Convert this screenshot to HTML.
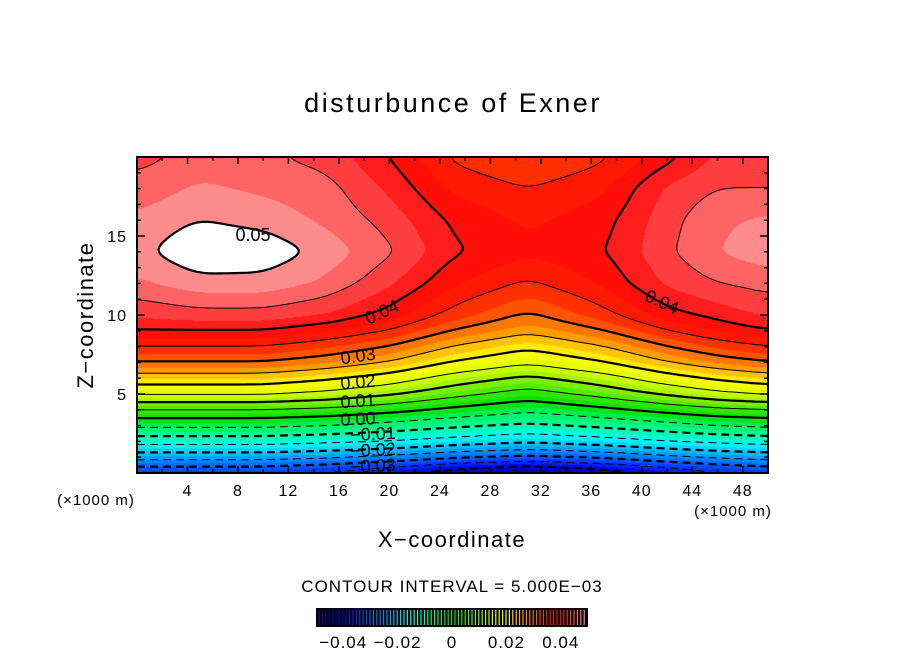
<!DOCTYPE html>
<html><head><meta charset="utf-8">
<style>
body{margin:0;background:#fff;}
#wrap{position:relative;width:904px;height:654px;overflow:hidden;background:#fff;font-family:"Liberation Sans",sans-serif;}
</style></head>
<body>
<div id="wrap">
<canvas id="fill" width="631" height="316" style="position:absolute;left:137px;top:157px;"></canvas>
<svg id="svg" width="904" height="654" style="position:absolute;left:0;top:0;"></svg>
</div>
<script>
// ---- data ----
const xCoords = [0,5,10,15,20,25,31,37,42,46,50];          // x (x1000 m)
const zCoords = [0,1,2,3,4,5,6,7,8,9,10,12,14,16,18,20];   // z (x1000 m)
// field values: one array per x column, bottom to top
const col0  = [-0.035,-0.023,-0.013,-0.004,0.005,0.016,0.023,0.030,0.035,0.040,0.043,0.047,0.049,0.048,0.046,0.044];
const col5  = [-0.035,-0.023,-0.013,-0.004,0.005,0.016,0.023,0.030,0.035,0.040,0.044,0.049,0.0525,0.050,0.048,0.046];
const col10 = [-0.035,-0.023,-0.013,-0.004,0.005,0.016,0.023,0.030,0.035,0.040,0.044,0.049,0.052,0.049,0.047,0.0455];
const col15 = [-0.037,-0.024,-0.014,-0.005,0.004,0.014,0.021,0.028,0.033,0.038,0.0425,0.047,0.049,0.047,0.046,0.044];
const col20 = [-0.040,-0.026,-0.015,-0.007,0.002,0.011,0.018,0.025,0.030,0.035,0.039,0.043,0.0455,0.044,0.042,0.040];
const col25 = [-0.044,-0.029,-0.017,-0.009,-0.001,0.007,0.013,0.020,0.025,0.030,0.034,0.038,0.0405,0.0395,0.037,0.0345];
const col31 = [-0.047,-0.031,-0.019,-0.011,-0.004,0.003,0.009,0.016,0.021,0.026,0.0295,0.0345,0.038,0.037,0.035,0.032];
const col37 = [-0.044,-0.029,-0.017,-0.009,-0.001,0.007,0.013,0.020,0.025,0.030,0.034,0.038,0.0398,0.039,0.037,0.0345];
const col42 = [-0.040,-0.026,-0.015,-0.007,0.002,0.011,0.018,0.025,0.030,0.035,0.039,0.043,0.0445,0.044,0.043,0.039];
const col46 = [-0.037,-0.024,-0.014,-0.005,0.004,0.014,0.021,0.028,0.033,0.038,0.041,0.045,0.0475,0.047,0.045,0.043];
const col50 = [-0.035,-0.023,-0.013,-0.004,0.005,0.016,0.023,0.030,0.035,0.040,0.043,0.046,0.049,0.048,0.045,0.043];
const columns = [col0,col5,col10,col15,col20,col25,col31,col37,col42,col46,col50];
const xTicks = [4,8,12,16,20,24,28,32,36,40,44,48];
const zTicks = [5,10,15];
const cbarTicks = [-0.04,-0.02,0,0.02,0.04];
const cbarLabels = ["\u22120.04","\u22120.02","0","0.02","0.04"];

// ---- axes ----
const PL=137,PR=768,PT=157,PB=473;
const X0=0,X1=50,Z0=0,Z1=20;
const sx = x => PL + (x-X0)/(X1-X0)*(PR-PL);
const sz = z => PB - (z-Z0)/(Z1-Z0)*(PB-PT);
const ix = px => X0 + (px)/(PR-PL)*(X1-X0);
const iz = py => Z1 - (py)/(PB-PT)*(Z1-Z0);

function seg(arr,v){let i=0;while(i<arr.length-2&&v>arr[i+1])i++;let t=(v-arr[i])/(arr[i+1]-arr[i]);return [i,Math.max(0,Math.min(1,t))];}
function field(x,z){
  const [i,tx]=seg(xCoords,x),[j,tz]=seg(zCoords,z);
  const a=columns[i][j],b=columns[i+1][j],c=columns[i][j+1],d=columns[i+1][j+1];
  return (a*(1-tx)+b*tx)*(1-tz)+(c*(1-tx)+d*tx)*tz;
}
const stops=[[-0.05,[80,0,144]],[-0.045,[0,0,176]],[-0.04,[0,0,224]],[-0.035,[0,48,255]],[-0.03,[0,96,255]],[-0.025,[0,144,255]],[-0.02,[0,200,255]],[-0.015,[0,255,240]],[-0.01,[0,255,160]],[-0.005,[0,240,96]],[0,[0,224,0]],[0.005,[64,232,0]],[0.01,[144,240,0]],[0.015,[216,255,0]],[0.02,[255,255,0]],[0.025,[255,176,0]],[0.03,[255,100,0]],[0.035,[255,30,0]],[0.04,[255,10,10]],[0.045,[255,80,80]],[0.05,[255,160,160]]];
function cmap(v){
  if(v<=stops[0][0])return stops[0][1];
  for(let k=0;k<stops.length-1;k++){if(v<=stops[k+1][0]){const t=(v-stops[k][0])/(stops[k+1][0]-stops[k][0]);return stops[k][1].map((c,i)=>Math.round(c+(stops[k+1][1][i]-c)*t));}}
  return stops[stops.length-1][1];
}
// ---- field sampling + smoothing ----
const W=PR-PL,H=PB-PT;
let F=[];
for(let py=0;py<H;py++){const r=new Float64Array(W);for(let px=0;px<W;px++)r[px]=field(ix(px+0.5),iz(py+0.5));F.push(r);}
function blurH(A,R){return A.map(r=>{const o=new Float64Array(W);for(let x=0;x<W;x++){let s=0,n=0;for(let k=-R;k<=R;k++){const xx=Math.min(W-1,Math.max(0,x+k));s+=r[xx];n++;}o[x]=s/n;}return o;});}
function blurV(A,R){const O=A.map(()=>new Float64Array(W));for(let y=0;y<H;y++)for(let x=0;x<W;x++){let s=0,n=0;for(let k=-R;k<=R;k++){const yy=Math.min(H-1,Math.max(0,y+k));s+=A[yy][x];n++;}O[y][x]=s/n;}return O;}
for(let p=0;p<2;p++){F=blurH(F,12);F=blurV(F,5);}

const cv=document.getElementById('fill'),ctx=cv.getContext('2d');
const img=ctx.createImageData(W,H);
for(let py=0;py<H;py++)for(let px=0;px<W;px++){
  const v=F[py][px];let col;
  if(v>=0.05)col=[255,255,255];else{const q=Math.floor(v/0.0025)*0.0025+0.00125;col=cmap(q);}
  const o=(py*W+px)*4;img.data[o]=col[0];img.data[o+1]=col[1];img.data[o+2]=col[2];img.data[o+3]=255;}
ctx.putImageData(img,0,0);

const NS='http://www.w3.org/2000/svg';
const svg=document.getElementById('svg');
function el(tag,attrs,parent){const e=document.createElementNS(NS,tag);for(const k in attrs)e.setAttribute(k,attrs[k]);(parent||svg).appendChild(e);return e;}

// ---- contours ----
const levels=[];for(let k=-10;k<=10;k++)levels.push(+(k*0.005).toFixed(3));
const STEP=3;
const cg=el('g',{});


levels.forEach(L=>{
  const thick=Math.abs(Math.round(L*1000))%10===0;
  const sw=thick?2.2:1;
  if(L<0){
    let pts=[];
    for(let px=0;px<W;px+=2){
      let found=null;
      for(let py=H-1;py>0;py--){const v0=F[py][px],v1=F[py-1][px];if(v0<L&&v1>=L){found=py-(L-v0)/(v1-v0);break;}}
      if(found!==null)pts.push((PL+px).toFixed(1)+','+(PT+found+0.5).toFixed(1));
    }
    if(pts.length>1){const p=el('polyline',{points:pts.join(' '),fill:'none',stroke:'#000','stroke-width':sw,'stroke-dasharray':'8,5'},cg);
      
      }
  } else {
    let d='';
    for(let py=0;py+STEP<H;py+=STEP)for(let px=0;px+STEP<W;px+=STEP){
      const a=F[py][px],b=F[py][px+STEP],c=F[py+STEP][px+STEP],e=F[py+STEP][px];
      const P=[];
      const ed=(v1,v2,x1,y1,x2,y2)=>{if((v1<L)!==(v2<L)){const t=(L-v1)/(v2-v1);P.push([x1+(x2-x1)*t,y1+(y2-y1)*t]);}};
      ed(a,b,px,py,px+STEP,py);ed(b,c,px+STEP,py,px+STEP,py+STEP);ed(c,e,px+STEP,py+STEP,px,py+STEP);ed(e,a,px,py+STEP,px,py);
      for(let k=0;k+1<P.length;k+=2)d+='M'+(PL+P[k][0]).toFixed(1)+' '+(PT+P[k][1]).toFixed(1)+'L'+(PL+P[k+1][0]).toFixed(1)+' '+(PT+P[k+1][1]).toFixed(1);
    }
    if(d){const p=el('path',{d:d,fill:'none',stroke:'#000','stroke-width':sw,'stroke-linecap':'round'},cg);
      
      }
  }
});
const lab=[["0.05",253,241,0],["0.04",382,318,-25],["0.04",662,308,25],["0.03",358,362,-8],["0.02",358,388,-5],["0.01",358,407,-4],["0.00",358,425,-3],["\u22120.01",373,440,-3],["\u22120.02",373,456,-3],["\u22120.03",373,472,-3]];
lab.forEach(l=>{const t=el('text',{x:l[1],y:l[2],'font-size':18,'text-anchor':'middle',transform:`rotate(${l[3]} ${l[1]} ${l[2]-6})`,fill:'#000'});t.textContent=l[0];
  
  });

// ---- frame & ticks ----
const fr=el('rect',{x:PL,y:PT,width:PR-PL,height:PB-PT,fill:'none',stroke:'#000','stroke-width':2});


for(let x=2;x<50;x+=2){const maj=x%4===0,len=maj?7:4;
  el('line',{x1:sx(x),x2:sx(x),y1:PB,y2:PB-len,stroke:'#000','stroke-width':1.5});
  el('line',{x1:sx(x),x2:sx(x),y1:PT,y2:PT+len,stroke:'#000','stroke-width':1.5});}
for(let z=1;z<20;z++){const maj=z%5===0,len=maj?8:4;
  el('line',{x1:PL,x2:PL+len,y1:sz(z),y2:sz(z),stroke:'#000','stroke-width':1.5});
  el('line',{x1:PR,x2:PR-len,y1:sz(z),y2:sz(z),stroke:'#000','stroke-width':1.5});}
xTicks.forEach(x=>{const t=el('text',{x:sx(x),y:496,'font-size':16,'text-anchor':'middle','letter-spacing':'1'});t.textContent=x;
  
  });
zTicks.forEach(z=>{const t=el('text',{x:127,y:sz(z)+6,'font-size':16,'text-anchor':'end','letter-spacing':'1'});t.textContent=z;
  
  });

function txt(s,x,y,size,name,extra){const t=el('text',Object.assign({x:x,y:y,'font-size':size,'text-anchor':'middle'},extra||{}));t.textContent=s;return t;}
txt('disturbunce of Exner',453,112,27,'chart-title',{'letter-spacing':'2.5'});
txt('(\u00d71000 m)',96,505,15,'x-unit-left',{'letter-spacing':'1'});
txt('(\u00d71000 m)',733,516,15,'x-unit-right',{'letter-spacing':'1'});
txt('X\u2212coordinate',452,547,22,'x-axis-title',{'letter-spacing':'1.5'});
txt('Z\u2212coordinate',93,315,22,'y-axis-title',{transform:'rotate(-90 93 315)','letter-spacing':'1.5'});
txt('CONTOUR INTERVAL = 5.000E\u221203',452,592,17,'contour-interval-note',{'letter-spacing':'1'});

// ---- colorbar ----
const CB0=316,CB1=588,CBT=608,CBB=627;
const cb=el('g',{});


el('rect',{x:CB0,y:CBT,width:CB1-CB0,height:CBB-CBT,fill:'#000'},cb);
const cbx=v=>CB0+(v+0.05)/0.1*(CB1-CB0);
for(let px=CB0+3;px<CB1-1;px+=3.4){const v=-0.05+(px-CB0)/(CB1-CB0)*0.1;const c=cmap(v);
  el('line',{x1:px,x2:px,y1:CBT+2,y2:CBB-2,stroke:`rgb(${c[0]},${c[1]},${c[2]})`,'stroke-width':1.2},cb);}
cbarTicks.forEach((v,i)=>{const t=el('text',{x:cbx(v),y:648,'font-size':17,'text-anchor':'middle','letter-spacing':'1'},cb);t.textContent=cbarLabels[i];
  
  });
</script>
</body></html>
